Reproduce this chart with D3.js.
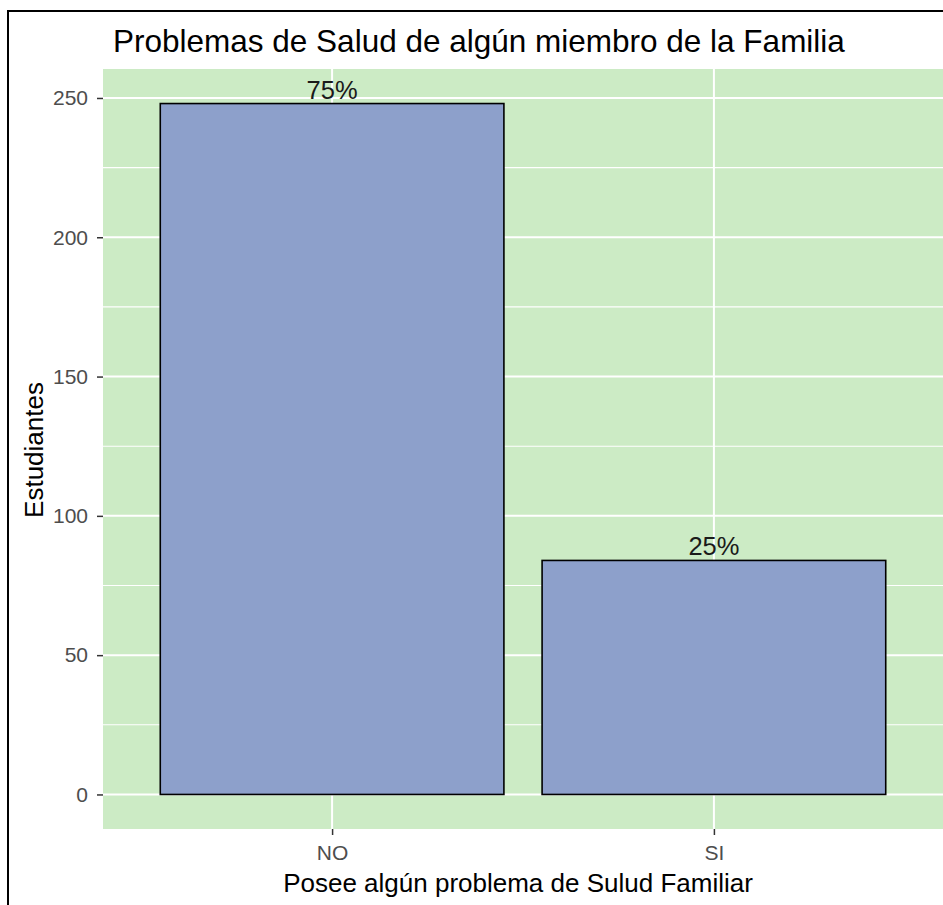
<!DOCTYPE html>
<html>
<head>
<meta charset="utf-8">
<script src="https://cdn.jsdelivr.net/npm/d3@7"></script>
<style>
  html, body { margin: 0; padding: 0; background: #fff; }
  svg { display: block; font-family: "Liberation Sans", Arial, sans-serif; }
</style>
</head>
<body>
<svg id="chart" width="943" height="905"></svg>
<script>
// Students by family health problem answer
const categories = ["NO", "SI"];
const counts = [248, 84];
const percentLabels = ["75%", "25%"];
const yTicks = [0, 50, 100, 150, 200, 250];
const yMinorTicks = [25, 75, 125, 175, 225];

const title = "Problemas de Salud de algún miembro de la Familia";
const xTitle = "Posee algún problema de Sulud Familiar";
const yTitle = "Estudiantes";

const svg = d3.select("#chart");
const W = 943, H = 905;

// outer frame
svg.append("rect")
  .attr("x", 8).attr("y", 11)
  .attr("width", W + 20).attr("height", H + 20)
  .attr("fill", "none").attr("stroke", "#000").attr("stroke-width", 2);

const panel = { left: 103, right: 943, top: 69, bottom: 829 };

// discrete x scale with 0.6 unit expansion on both sides
const n = categories.length;
const unit = (panel.right - panel.left) / (n - 1 + 1.2);
const x = d3.scaleOrdinal()
  .domain(categories)
  .range(categories.map((d, i) => panel.left + unit * (0.6 + i)));
const barW = unit * 0.9;

// continuous y with 5% expansion
const ymax = d3.max(counts);
const pad = ymax * 0.05;
const y = d3.scaleLinear()
  .domain([-pad, ymax + pad])
  .range([panel.bottom, panel.top]);

const g = svg.append("g");

// panel background
g.append("rect")
  .attr("x", panel.left).attr("y", panel.top)
  .attr("width", panel.right - panel.left)
  .attr("height", panel.bottom - panel.top)
  .attr("fill", "#CCEBC5");

// minor grid
g.selectAll("line.minor").data(yMinorTicks).enter().append("line")
  .attr("x1", panel.left).attr("x2", panel.right)
  .attr("y1", d => y(d)).attr("y2", d => y(d))
  .attr("stroke", "#fff").attr("stroke-width", 1.1);

// major grid
g.selectAll("line.major").data(yTicks).enter().append("line")
  .attr("x1", panel.left).attr("x2", panel.right)
  .attr("y1", d => y(d)).attr("y2", d => y(d))
  .attr("stroke", "#fff").attr("stroke-width", 2);

g.selectAll("line.vmajor").data(categories).enter().append("line")
  .attr("x1", d => x(d)).attr("x2", d => x(d))
  .attr("y1", panel.top).attr("y2", panel.bottom)
  .attr("stroke", "#fff").attr("stroke-width", 2);

// bars
g.selectAll("rect.bar").data(categories).enter().append("rect")
  .attr("x", d => x(d) - barW / 2)
  .attr("y", (d, i) => y(counts[i]))
  .attr("width", barW)
  .attr("height", (d, i) => y(0) - y(counts[i]))
  .attr("fill", "#8DA0CB")
  .attr("stroke", "#000").attr("stroke-width", 1.6);

// value labels
g.selectAll("text.lab").data(categories).enter().append("text")
  .attr("x", d => x(d))
  .attr("y", (d, i) => y(counts[i]) - 5)
  .attr("text-anchor", "middle")
  .attr("font-size", 25.5)
  .attr("fill", "#1a1a1a")
  .text((d, i) => percentLabels[i]);

// y axis
const yAxis = d3.axisLeft(y).tickValues(yTicks).tickSize(6).tickPadding(9);
const ya = svg.append("g").attr("transform", `translate(${panel.left},0)`).call(yAxis);
ya.select(".domain").remove();
ya.selectAll(".tick line").attr("stroke", "#333").attr("stroke-width", 1.5);
ya.selectAll(".tick text").attr("font-size", 21).attr("fill", "#4D4D4D")
  .attr("font-family", "Liberation Sans, Arial, sans-serif");

// x axis
const xAxis = d3.axisBottom(x).tickSize(6).tickPadding(10);
const xa = svg.append("g").attr("transform", `translate(0,${panel.bottom})`).call(xAxis);
xa.select(".domain").remove();
xa.selectAll(".tick line").attr("stroke", "#333").attr("stroke-width", 1.5);
xa.selectAll(".tick text").attr("font-size", 21).attr("fill", "#4D4D4D")
  .attr("font-family", "Liberation Sans, Arial, sans-serif");

// titles
svg.append("text")
  .attr("x", 113).attr("y", 52)
  .attr("font-size", 31.5).attr("fill", "#000")
  .text(title);

svg.append("text")
  .attr("x", 518).attr("y", 892)
  .attr("text-anchor", "middle")
  .attr("font-size", 26).attr("fill", "#000")
  .text(xTitle);

svg.append("text")
  .attr("transform", `translate(43,450) rotate(-90)`)
  .attr("text-anchor", "middle")
  .attr("font-size", 26).attr("fill", "#000")
  .text(yTitle);
</script>
</body>
</html>
